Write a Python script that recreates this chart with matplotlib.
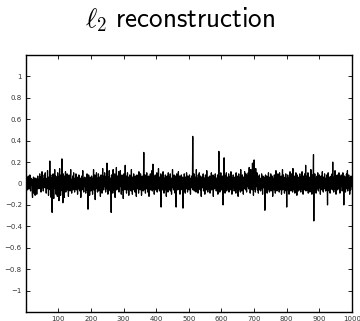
import matplotlib
matplotlib.use('Agg')
import matplotlib.pyplot as plt
import numpy as np

# reconstructed signal (1000 samples, rows of 20)
signal = [
    0.02, -0.04, 0.06, -0.01, 0.03, -0.06, 0.00, 0.07, -0.03, 0.01, -0.05, 0.04, 0.08, -0.02, -0.07, 0.05, -0.01, 0.02, 0.04, -0.08,
    -0.13, 0.03, -0.01, 0.06, -0.09, 0.02, 0.05, -0.04, -0.11, 0.01, 0.05, -0.06, 0.00, -0.10, 0.04, -0.02, 0.07, -0.05, 0.01, -0.03,
    0.04, -0.01, 0.09, -0.05, 0.02, 0.06, -0.08, 0.03, 0.00, 0.11, -0.04, 0.01, 0.05, -0.07, 0.03, -0.02, 0.08, 0.01, -0.04, 0.10,
    -0.03, 0.05, -0.09, 0.04, 0.02, -0.05, 0.12, -0.02, 0.04, -0.11, 0.06, 0.01, -0.03, 0.21, -0.06, 0.03, 0.08, -0.13, 0.05, -0.01,
    -0.27, 0.04, -0.06, 0.09, 0.02, -0.14, 0.06, -0.03, 0.13, -0.05, 0.01, 0.07, -0.10, 0.04, 0.00, 0.06, -0.12, 0.10, -0.04, 0.03,
    0.06, -0.16, 0.04, 0.14, -0.06, 0.02, -0.11, 0.08, -0.01, 0.05, 0.23, -0.07, 0.03, -0.18, 0.09, -0.03, 0.06, -0.13, 0.01, 0.07,
    -0.04, 0.11, -0.08, 0.03, 0.06, -0.02, 0.09, -0.06, 0.00, 0.05, -0.12, 0.03, 0.08, -0.04, 0.01, -0.07, 0.05, 0.13, -0.05, 0.02,
    -0.09, 0.04, -0.01, 0.07, -0.06, 0.03, 0.10, -0.04, 0.00, -0.08, 0.05, 0.02, -0.03, 0.09, -0.06, 0.04, 0.00, 0.06, -0.10, 0.03,
    0.01, -0.05, 0.08, -0.02, 0.04, -0.07, 0.03, 0.05, -0.13, 0.02, -0.03, 0.07, -0.06, 0.03, 0.12, -0.04, 0.00, -0.08, 0.05, -0.01,
    0.06, -0.03, 0.02, -0.09, 0.05, 0.01, -0.06, 0.09, -0.03, 0.04, -0.24, 0.03, 0.08, -0.05, 0.01, -0.11, 0.06, -0.02, 0.05, -0.07,
    0.03, 0.07, -0.04, 0.00, -0.10, 0.05, -0.01, 0.13, -0.06, 0.03, -0.02, 0.08, -0.15, 0.04, 0.01, -0.05, 0.10, -0.03, 0.02, -0.08,
    0.05, -0.02, 0.09, -0.07, 0.03, 0.06, -0.05, 0.01, -0.12, 0.04, 0.08, -0.03, 0.05, -0.09, 0.02, 0.14, -0.04, 0.00, -0.06, 0.07,
    -0.03, 0.10, -0.01, 0.05, -0.08, 0.03, 0.07, -0.05, 0.19, -0.02, 0.04, -0.10, 0.06, 0.01, -0.05, 0.12, -0.03, 0.03, -0.07, 0.05,
    0.02, -0.27, 0.08, -0.04, 0.05, 0.00, -0.09, 0.13, -0.03, 0.06, -0.06, 0.03, 0.09, -0.13, 0.01, 0.05, -0.03, 0.15, -0.06, 0.03,
    -0.02, 0.07, -0.05, 0.04, 0.11, -0.08, 0.01, 0.05, -0.03, 0.12, -0.01, 0.05, -0.10, 0.03, 0.08, -0.06, 0.02, 0.06, -0.14, 0.04,
    0.09, -0.03, 0.03, -0.06, 0.17, -0.04, 0.02, 0.07, -0.09, 0.05, 0.00, 0.10, -0.06, 0.03, 0.06, -0.11, 0.04, -0.02, 0.08, -0.05,
    0.01, 0.05, -0.07, 0.13, -0.03, 0.03, -0.10, 0.06, 0.00, -0.04, 0.09, -0.06, 0.04, 0.02, -0.08, 0.07, -0.03, 0.05, -0.12, 0.03,
    0.08, -0.05, 0.02, -0.01, 0.06, -0.09, 0.11, -0.03, 0.04, 0.00, -0.06, 0.09, -0.02, 0.05, -0.11, 0.03, 0.07, -0.04, 0.01, -0.07,
    0.05, 0.29, -0.06, 0.03, -0.02, 0.08, -0.09, 0.04, 0.01, -0.05, 0.10, -0.03, 0.06, -0.08, 0.03, -0.01, 0.07, -0.12, 0.05, 0.02,
    -0.04, 0.09, -0.06, 0.03, 0.05, -0.02, 0.12, -0.07, 0.03, 0.18, -0.05, 0.01, 0.06, -0.10, 0.04, 0.00, 0.08, -0.06, 0.03, 0.05,
    -0.03, 0.10, -0.08, 0.02, 0.05, -0.05, 0.14, -0.01, 0.03, -0.07, 0.06, 0.00, -0.04, 0.09, -0.22, 0.05, -0.02, 0.07, -0.06, 0.03,
    0.11, -0.04, 0.01, -0.09, 0.05, 0.03, -0.06, 0.08, -0.03, 0.05, -0.12, 0.02, 0.07, -0.03, 0.04, -0.08, 0.10, -0.01, 0.03, -0.06,
    0.06, -0.02, 0.09, -0.07, 0.03, 0.00, -0.10, 0.05, -0.04, 0.13, -0.03, 0.05, -0.06, 0.02, 0.08, -0.05, 0.01, -0.09, 0.07, -0.03,
    -0.22, 0.04, 0.09, -0.03, 0.05, -0.06, 0.02, 0.11, -0.05, 0.03, -0.01, 0.07, -0.10, 0.05, 0.00, -0.06, 0.08, -0.03, 0.03, 0.06,
    -0.04, -0.23, 0.05, 0.02, -0.07, 0.09, -0.03, 0.04, -0.09, 0.06, 0.01, -0.05, 0.10, -0.02, 0.03, -0.08, 0.07, -0.03, 0.03, 0.05,
    -0.06, 0.08, -0.01, 0.04, -0.10, 0.05, 0.02, -0.04, 0.07, -0.03, 0.03, 0.44, -0.06, 0.05, -0.02, 0.09, -0.07, 0.03, 0.06, -0.04,
    0.01, -0.08, 0.13, -0.03, 0.05, -0.02, 0.04, -0.09, 0.08, 0.00, -0.05, 0.10, -0.03, 0.03, -0.06, 0.07, 0.02, -0.12, 0.05, -0.01,
    0.06, -0.04, 0.03, 0.09, -0.07, 0.04, -0.02, 0.05, -0.10, 0.03, 0.08, -0.03, 0.01, -0.06, 0.12, -0.03, 0.05, -0.08, 0.02, 0.06,
    -0.05, 0.03, -0.01, 0.07, -0.09, 0.05, 0.00, -0.04, 0.10, -0.06, 0.03, 0.05, -0.03, 0.08, -0.12, 0.04, 0.00, 0.06, -0.05, 0.02,
    0.09, -0.03, 0.05, -0.07, 0.03, 0.05, -0.02, 0.08, -0.10, 0.03, 0.01, 0.30, -0.05, 0.04, -0.08, 0.06, -0.03, 0.10, -0.06, 0.02,
    0.04, -0.06, 0.07, -0.03, -0.20, 0.05, 0.01, 0.24, -0.04, 0.08, -0.09, 0.03, 0.05, -0.02, 0.10, -0.07, 0.03, 0.06, -0.05, 0.01,
    -0.03, 0.09, -0.08, 0.04, 0.02, -0.06, 0.07, -0.01, 0.11, -0.06, 0.03, -0.10, 0.05, 0.00, -0.04, 0.08, -0.03, 0.05, -0.07, 0.04,
    0.06, -0.02, 0.03, -0.09, 0.10, -0.05, 0.01, 0.07, -0.03, 0.05, -0.12, 0.03, 0.09, -0.06, 0.04, -0.01, 0.06, -0.08, 0.13, -0.03,
    0.05, -0.07, 0.02, 0.08, -0.04, 0.03, -0.10, 0.06, 0.01, -0.05, 0.11, -0.03, 0.04, -0.06, 0.09, 0.02, -0.08, 0.05, -0.01, 0.07,
    -0.03, 0.10, -0.05, 0.04, 0.15, -0.02, 0.07, -0.09, 0.03, 0.13, -0.04, 0.09, 0.02, -0.06, 0.19, -0.03, 0.06, -0.11, 0.10, 0.22,
    -0.05, 0.08, 0.03, -0.08, 0.14, -0.03, 0.06, -0.01, 0.10, -0.06, 0.04, 0.00, -0.09, 0.06, -0.03, 0.08, -0.06, 0.03, 0.02, -0.07,
    0.05, -0.02, 0.09, -0.05, 0.03, -0.10, 0.07, 0.01, -0.04, 0.06, -0.03, 0.05, -0.25, 0.04, 0.08, -0.06, 0.03, -0.01, 0.07, -0.09,
    0.04, 0.00, -0.06, 0.10, -0.03, 0.06, -0.08, 0.03, 0.05, -0.02, 0.09, -0.07, 0.03, -0.04, 0.07, 0.01, -0.12, 0.05, -0.03, 0.04,
    -0.06, 0.08, -0.01, 0.03, -0.09, 0.05, 0.12, -0.04, 0.02, -0.07, 0.06, -0.03, 0.09, -0.05, 0.04, 0.00, -0.08, 0.10, -0.03, 0.05,
    0.02, -0.06, 0.07, -0.10, 0.04, -0.02, 0.13, -0.06, 0.03, 0.08, -0.04, 0.05, -0.09, 0.01, 0.06, -0.03, 0.09, -0.07, 0.03, -0.22,
    0.05, -0.03, 0.08, -0.06, 0.03, 0.01, -0.10, 0.06, -0.04, 0.11, -0.02, 0.04, -0.07, 0.09, -0.03, 0.05, 0.00, -0.08, 0.14, -0.05,
    0.03, -0.06, 0.07, 0.04, -0.09, 0.05, -0.02, 0.10, -0.05, 0.03, -0.11, 0.08, 0.01, -0.04, 0.06, -0.07, 0.05, 0.02, -0.06, 0.09,
    -0.03, 0.04, -0.08, 0.06, 0.00, -0.05, 0.11, -0.03, 0.05, -0.10, 0.07, -0.01, 0.03, -0.06, 0.09, 0.03, -0.04, 0.17, -0.07, 0.05,
    -0.02, 0.07, -0.06, 0.03, 0.10, -0.09, 0.04, -0.03, 0.06, 0.01, -0.08, 0.05, -0.04, 0.13, -0.03, 0.05, -0.10, 0.08, 0.02, -0.06,
    0.04, 0.27, -0.35, 0.06, -0.03, 0.09, -0.06, 0.03, 0.05, -0.09, 0.03, -0.01, 0.07, -0.05, 0.10, 0.00, -0.07, 0.05, -0.03, 0.08,
    -0.04, 0.05, -0.10, 0.03, 0.07, -0.02, 0.05, -0.06, 0.11, -0.03, 0.01, -0.08, 0.06, 0.03, -0.05, 0.09, -0.01, 0.04, -0.07, 0.05,
    0.02, -0.06, 0.08, -0.03, -0.20, 0.05, 0.10, -0.04, 0.03, -0.07, 0.06, 0.00, -0.09, 0.05, -0.02, 0.07, -0.05, 0.03, 0.09, -0.06,
    0.20, -0.03, 0.05, -0.08, 0.06, 0.02, -0.05, 0.12, -0.03, 0.04, -0.10, 0.07, 0.01, -0.04, 0.08, -0.06, 0.03, 0.05, -0.02, 0.10,
    -0.05, 0.03, -0.09, 0.06, 0.04, -0.03, 0.08, -0.01, 0.05, -0.07, 0.03, 0.10, -0.06, 0.02, -0.20, 0.05, 0.07, -0.03, 0.04, -0.08,
    0.06, -0.02, 0.09, -0.05, 0.03, 0.12, -0.07, 0.03, -0.04, 0.08, -0.01, 0.05, -0.10, 0.04, 0.01, -0.06, 0.07, -0.03, 0.05, -0.02,
]
index = np.arange(1, len(signal) + 1)

xticks = [100, 200, 300, 400, 500, 600, 700, 800, 900, 1000]
yticks = [-1, -0.8, -0.6, -0.4, -0.2, 0, 0.2, 0.4, 0.6, 0.8, 1]
ytick_labels = ['\u22121', '\u22120.8', '\u22120.6', '\u22120.4', '\u22120.2', '0',
                '0.2', '0.4', '0.6', '0.8', '1']

plt.rcParams['mathtext.fontset'] = 'cm'

fig = plt.figure(figsize=(3.6, 3.21), dpi=100)
ax = fig.add_axes([26 / 360, 9 / 321, 326 / 360, 257 / 321])

ax.plot(index, signal, color='black', linewidth=0.9)

ax.set_xlim(1, 1000)
ax.set_ylim(-1.2, 1.2)
ax.set_xticks(xticks)
ax.set_xticklabels([str(t) for t in xticks])
ax.set_yticks(yticks)
ax.set_yticklabels(ytick_labels)

# matlab style box with inward ticks
ax.tick_params(direction='in', length=3, width=0.6, top=True, right=True,
               labelsize=5, labelcolor='#333333', pad=3)
for s in ax.spines.values():
    s.set_linewidth(1.0)

# title in computer modern sans, like the beamer slide
fig.text(0.5, 1 - 27 / 321, r'$\ell_{\mathsf{2}}\ \mathsf{reconstruction}$', ha='center',
         va='baseline', fontsize=19.5)

fig.savefig('out.png', dpi=100)
